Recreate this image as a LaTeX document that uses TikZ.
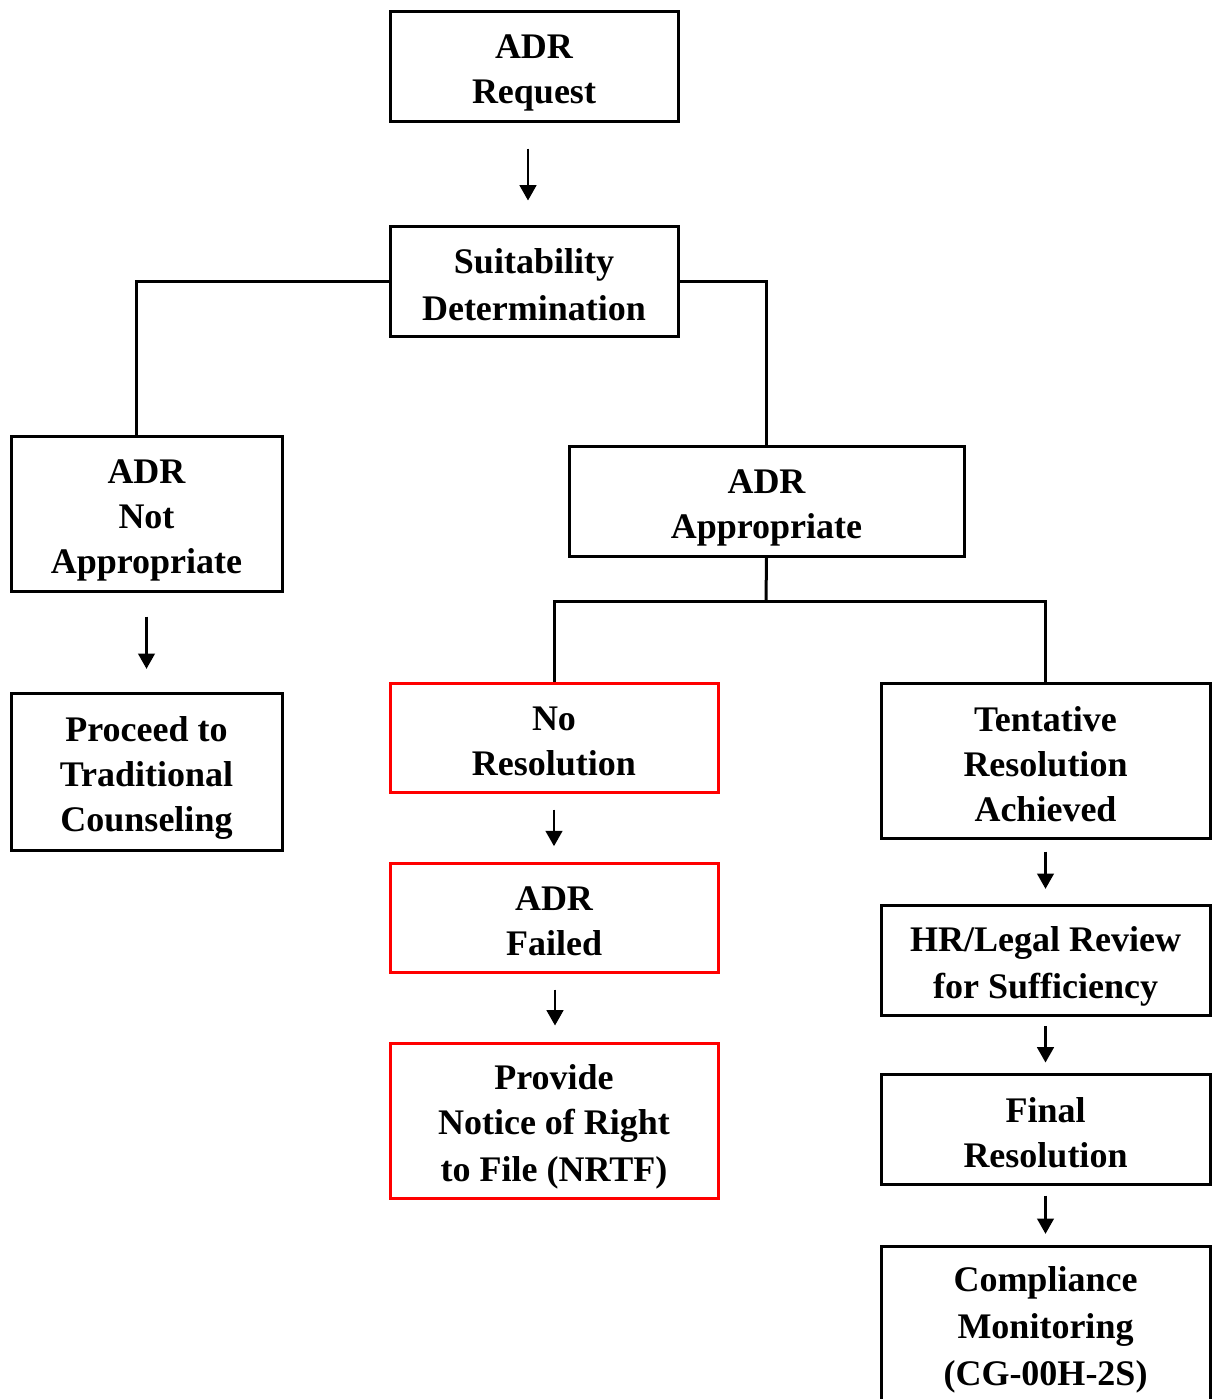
\documentclass[tikz,border=0pt]{standalone}
\usepackage{fontspec}
\setmainfont{Liberation Serif}
\usetikzlibrary{arrows.meta,calc}
\newcommand\mystrut{\rule[-5pt]{0pt}{33.5pt}}
\begin{document}
\begin{tikzpicture}[x=0.75pt,y=-0.75pt,
  box/.style={draw=black,line width=2.25pt,rectangle,inner sep=0pt,align=center,
    font=\fontsize{27}{33.75}\selectfont\bfseries},
  redbox/.style={box,draw=red},
  arr/.style={line width=1.8pt,-{Triangle[width=12.5pt,length=11.5pt]}},
  link/.style={line width=2.25pt}]
\clip (0,0) rectangle (1212,1399);
\fill[white] (0,0) rectangle (1212,1399);

\node[box,minimum width=216pt,minimum height=82.5pt] (req) at (534,66) {\mystrut ADR\\\mystrut Request};
\node[box,minimum width=216pt,minimum height=82.5pt] (suit) at (534,281) {\mystrut Suitability\\\mystrut Determination};
\node[box,minimum width=203.25pt,minimum height=116.25pt] (notapp) at (146.5,513.5) {\mystrut ADR\\\mystrut Not\\\mystrut Appropriate};
\node[box,minimum width=203.25pt,minimum height=117.75pt] (proc) at (146.5,771.5) {\mystrut Proceed to\\\mystrut Traditional\\\mystrut Counseling};
\node[box,minimum width=296.25pt,minimum height=82.5pt] (app) at (766.5,501) {\mystrut ADR\\\mystrut Appropriate};
\node[redbox,minimum width=246pt,minimum height=81.75pt] (nores) at (554,737.5) {\mystrut No\\\mystrut Resolution};
\node[redbox,minimum width=246pt,minimum height=81.75pt] (failed) at (554,917.5) {\mystrut ADR\\\mystrut Failed};
\node[redbox,minimum width=246pt,minimum height=116.25pt] (nrtf) at (554,1120.5) {\mystrut Provide\\\mystrut Notice of Right\\\mystrut to File (NRTF)};
\node[box,minimum width=246.75pt,minimum height=116.25pt] (tent) at (1045.5,760.5) {\mystrut Tentative\\\mystrut Resolution\\\mystrut Achieved};
\node[box,minimum width=246.75pt,minimum height=82.5pt] (hr) at (1045.5,960) {\mystrut HR/Legal Review\\\mystrut for Sufficiency};
\node[box,minimum width=246.75pt,minimum height=82.5pt] (final) at (1045.5,1129) {\mystrut Final\\\mystrut Resolution};
\node[box,minimum width=246.75pt,minimum height=116.25pt] (comp) at (1045.5,1323.5) {\mystrut Compliance\\\mystrut Monitoring\\\mystrut (CG-00H-2S)};

\coordinate (j) at (766,601);

% branch connectors
\draw[link] (suit.west) -| ($(notapp.north)+(-10,0)$);
\draw[link] (suit.east) -| (app.north);
\draw[link] (app.south) -- (j);
\draw[link] (nores.north) |- (j) -| (tent.north);

% arrows
\draw[arr,shorten <=19.5pt,shorten >=18pt] ($(req.south)+(-6,0)$) -- ($(suit.north)+(-6,0)$);
\draw[arr,shorten <=18pt,shorten >=17pt] (notapp.south) -- (proc.north);
\draw[arr,shorten <=12pt,shorten >=11.5pt] (nores.south) -- (failed.north);
\draw[arr,shorten <=12pt,shorten >=12pt] ($(failed.south)+(1,0)$) -- ($(nrtf.north)+(1,0)$);
\draw[arr,shorten <=9pt,shorten >=11pt] (tent.south) -- (hr.north);
\draw[arr,shorten <=7pt,shorten >=7.5pt] (hr.south) -- (final.north);
\draw[arr,shorten <=7.5pt,shorten >=8pt] (final.south) -- (comp.north);
\end{tikzpicture}
\end{document}
